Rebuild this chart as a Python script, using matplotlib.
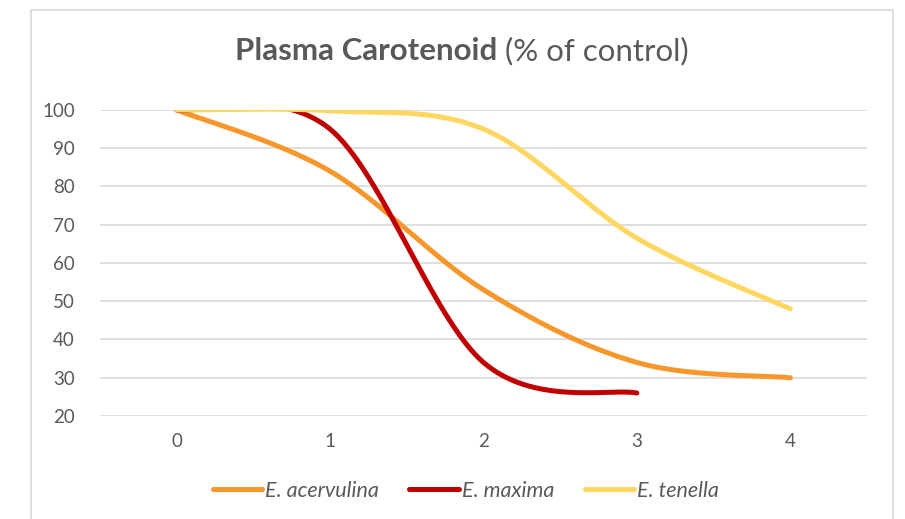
import numpy as np
import matplotlib
matplotlib.use("Agg")
import matplotlib.pyplot as plt
from matplotlib.patches import Rectangle
from matplotlib.lines import Line2D

# --- data ---
days = [0, 1, 2, 3, 4]
acervulina = [100, 84, 53, 34, 30]
maxima = [100, 95, 34, 26]
tenella = [100, 99.8, 95, 66.5, 48]

series_names = ["E. acervulina", "E. maxima", "E. tenella"]
series_colors = ["#F7962B", "#C00000", "#FFD660"]
y_ticks = [20, 30, 40, 50, 60, 70, 80, 90, 100]

FONT = ["Lato", "DejaVu Sans"]
GRAY = "#595959"


def smooth(xs, ys, n=60):
    # Excel-style smoothed line: Catmull-Rom as cubic Beziers
    p = np.column_stack([xs, ys]).astype(float)
    p = np.vstack([p[0], p, p[-1]])
    out = []
    for i in range(1, len(p) - 2):
        p0, p1, p2, p3 = p[i - 1], p[i], p[i + 1], p[i + 2]
        c1 = p1 + (p2 - p0) / 6
        c2 = p2 - (p3 - p1) / 6
        t = np.linspace(0, 1, n)[:, None]
        seg = ((1 - t) ** 3) * p1 + 3 * ((1 - t) ** 2) * t * c1 \
            + 3 * (1 - t) * t ** 2 * c2 + t ** 3 * p2
        out.append(seg if i == 1 else seg[1:])
    b = np.vstack(out)
    return b[:, 0], b[:, 1]


fig = plt.figure(figsize=(9.05, 5.19), dpi=100)
W, H = 905, 519

# chart frame
fig.patches.append(Rectangle((31 / W, -0.02), 862 / W, (H - 10) / H + 0.02,
                             transform=fig.transFigure, fill=False,
                             edgecolor="#D9D9D9", linewidth=1.2))

ax = fig.add_axes([100 / W, 1 - 416 / H, 767 / W, 306 / H])
ax.set_xlim(-0.5, 4.5)
ax.set_ylim(20, 100)

for v in y_ticks:
    ax.axhline(v, color="#D9D9D9", linewidth=1.2, zorder=1)

for ys, name, col in zip([acervulina, maxima, tenella], series_names, series_colors):
    sx, sy = smooth(days[:len(ys)], ys)
    ax.plot(sx, sy, color=col, linewidth=3.6, solid_capstyle="round", zorder=3)

ax.set_xticks(days)
ax.set_yticks(y_ticks)
ax.tick_params(length=0, labelsize=13.5, labelcolor=GRAY)
ax.tick_params(axis="y", pad=18)
ax.tick_params(axis="x", pad=12)
for lbl in ax.get_xticklabels() + ax.get_yticklabels():
    lbl.set_family(FONT)
for s in ax.spines.values():
    s.set_visible(False)

# title: bold part + regular part, centred together
t1 = fig.text(0, 1 - 51 / H, "Plasma Carotenoid", fontsize=22.5, fontweight="bold",
              color=GRAY, family=FONT, va="center", ha="left")
t2 = fig.text(0, 1 - 51 / H, " (% of control)", fontsize=22.5, color=GRAY,
              family=FONT, va="center", ha="left")
fig.canvas.draw()
r = fig.canvas.get_renderer()
w1 = t1.get_window_extent(r).width / W
w2 = t2.get_window_extent(r).width / W
x0 = 462 / W - (w1 + w2) / 2
t1.set_x(x0)
t2.set_x(x0 + w1)

handles = [Line2D([], [], color=c, linewidth=3.6, solid_capstyle="round")
           for c in series_colors]
leg = fig.legend(handles, series_names, loc="center", bbox_to_anchor=(466 / W, 1 - 491 / H),
                 ncol=3, frameon=False, handlelength=2.3, handletextpad=0.15,
                 columnspacing=1.4, prop={"family": FONT, "style": "italic", "size": 15.5})
for t in leg.get_texts():
    t.set_color(GRAY)

fig.savefig("out.png", dpi=100)
